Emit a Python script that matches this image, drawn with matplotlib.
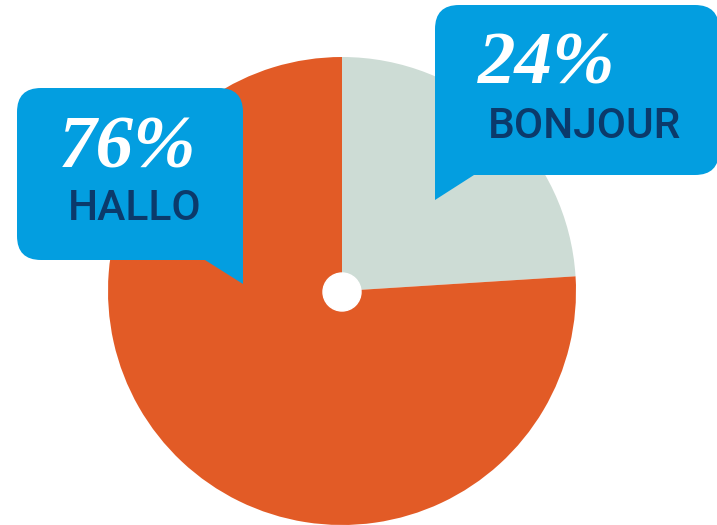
import matplotlib
matplotlib.use('Agg')
import matplotlib.pyplot as plt
from matplotlib.patches import FancyBboxPatch, Polygon, Circle

W, H = 717, 525

shares = [24, 76]
percent_labels = ['24%', '76%']
greetings = ['BONJOUR', 'HALLO']
slice_colors = ['#cddcd5', '#e25b26']
box_blue = '#039ee0'
navy = '#0b3a6b'


def py(y):
    # picture y (top-down) -> axes y (bottom-up)
    return H - y


fig = plt.figure(figsize=(W / 100, H / 100), dpi=100)
ax = fig.add_axes([0, 0, 1, 1])
ax.set_aspect('equal')
ax.axis('off')

ax.pie(shares, colors=slice_colors, startangle=90, counterclock=False,
       center=(342, py(291)), radius=234, wedgeprops=dict(linewidth=0))
ax.set_xlim(0, W)
ax.set_ylim(0, H)
ax.add_patch(Circle((342, py(292)), 19, color='white', zorder=3))

# callout boxes: (x0, y0, x1, y1) in picture coords, tail polygon
boxes = [
    ((435, 5, 719, 175), [(435, 140), (474, 175), (435, 200)]),
    ((17, 88, 243, 260), [(205, 260), (243, 225), (243, 284)]),
]
for (x0, y0, x1, y1), tail in boxes:
    ax.add_patch(FancyBboxPatch((x0 + 24, py(y1) + 24), x1 - x0 - 48, y1 - y0 - 48,
                                boxstyle='round,pad=24', fc=box_blue, ec='none', zorder=4))
    ax.add_patch(Polygon([(x, py(y)) for x, y in tail], closed=True,
                         fc=box_blue, ec='none', zorder=4))

text_pos = [(547, 66, 584, 126), (128, 149, 135, 208)]
for (px, pyy, gx, gy), pct, word in zip(text_pos, percent_labels, greetings):
    ax.text(px, py(pyy), pct, color='white', fontsize=54, fontstyle='italic',
            fontweight='bold', family='Liberation Serif', ha='center', va='center', zorder=5)
    ax.text(gx, py(gy), word, color=navy, fontsize=30.5, fontweight='medium',
            family='Roboto', ha='center', va='center', zorder=5)

fig.savefig('out.png', dpi=100)
